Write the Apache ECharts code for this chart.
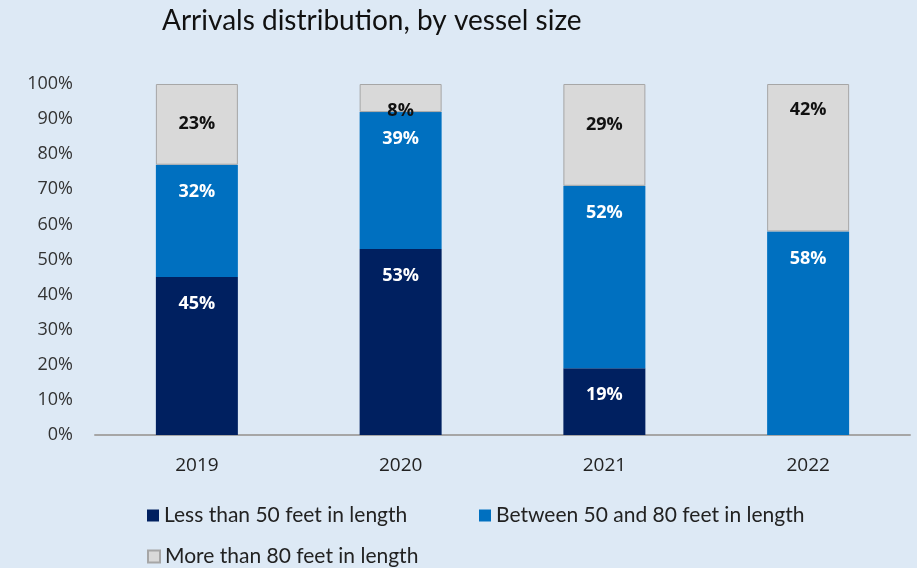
<!DOCTYPE html>
<html>
<head>
<meta charset="utf-8">
<script src="https://cdn.jsdelivr.net/npm/echarts@6/dist/echarts.min.js"></script>
<style>
  html, body { margin: 0; padding: 0; background: #dde9f5; }
  #chart { width: 917px; height: 568px; }
</style>
</head>
<body>
<div id="chart"></div>
<script>
// Share of arrivals per year, split by vessel length (percent)
const years = ['2019', '2020', '2021', '2022'];
const seriesNames = [
  'Less than 50 feet in length',
  'Between 50 and 80 feet in length',
  'More than 80 feet in length'
];
const under50 = [45, 53, 19, 0];
const between50and80 = [32, 39, 52, 58];
const over80 = [23, 8, 29, 42];

const NARROW = 'Lato, "Open Sans", sans-serif';
const UI = '"Open Sans", "Noto Sans", sans-serif';
const colors = ['#002060', '#0070c0', '#d9d9d9'];

function labelCfg(color, distance) {
  return {
    show: true,
    position: 'insideTop',
    distance: distance,
    color: color,
    fontFamily: UI,
    fontWeight: 'bold',
    fontSize: 18,
    formatter: p => (p.value > 0 ? p.value + '%' : '')
  };
}

// Labels in the light segment sit a little lower for 2019 and 2021
const topLabelDistance = [31, 18, 32, 17];

const legendText = { fontFamily: NARROW, fontSize: 21, color: '#222' };

const chart = echarts.init(document.getElementById('chart'), null, { renderer: 'canvas' });

chart.setOption({
  backgroundColor: '#dde9f5',
  animation: false,
  title: {
    text: 'Arrivals distribution, by vessel size',
    left: 157,
    top: 2,
    textStyle: { fontFamily: NARROW, fontSize: 28, fontWeight: 'normal', color: '#111' }
  },
  legend: [
    {
      data: [seriesNames[0]], left: 142, top: 500, itemWidth: 12, itemHeight: 12, itemGap: 6,
      icon: 'rect', textStyle: legendText
    },
    {
      data: [seriesNames[1]], left: 474, top: 500, itemWidth: 12, itemHeight: 12,
      icon: 'rect', textStyle: legendText
    },
    {
      data: [seriesNames[2]], left: 142, top: 541, itemWidth: 12, itemHeight: 12,
      icon: 'rect', textStyle: legendText
    }
  ],
  grid: { left: 95, right: 7, top: 84, bottom: 133 },
  xAxis: {
    type: 'category',
    data: years,
    axisLine: { show: true, lineStyle: { color: '#a6a6a6', width: 2 } },
    axisTick: { show: false },
    axisLabel: { fontFamily: UI, fontSize: 19, color: '#222', margin: 21 }
  },
  yAxis: {
    type: 'value',
    min: 0,
    max: 100,
    interval: 10,
    splitLine: { show: false },
    axisLine: { show: false },
    axisTick: { show: false },
    axisLabel: {
      fontFamily: UI, fontSize: 18, color: '#333', margin: 22,
      formatter: v => v + '%'
    }
  },
  series: [
    {
      name: seriesNames[0], type: 'bar', stack: 'total', barWidth: 82,
      itemStyle: { color: colors[0] },
      label: labelCfg('#fff', 18),
      data: under50
    },
    {
      name: seriesNames[1], type: 'bar', stack: 'total', barWidth: 82,
      itemStyle: { color: colors[1] },
      label: labelCfg('#fff', 18),
      data: between50and80
    },
    {
      name: seriesNames[2], type: 'bar', stack: 'total', barWidth: 82,
      itemStyle: { color: colors[2], borderColor: '#a6a6a6', borderWidth: 1 },
      label: labelCfg('#111', 17),
      data: over80.map((v, i) => ({ value: v, label: { distance: topLabelDistance[i] } }))
    }
  ]
});
</script>
</body>
</html>
